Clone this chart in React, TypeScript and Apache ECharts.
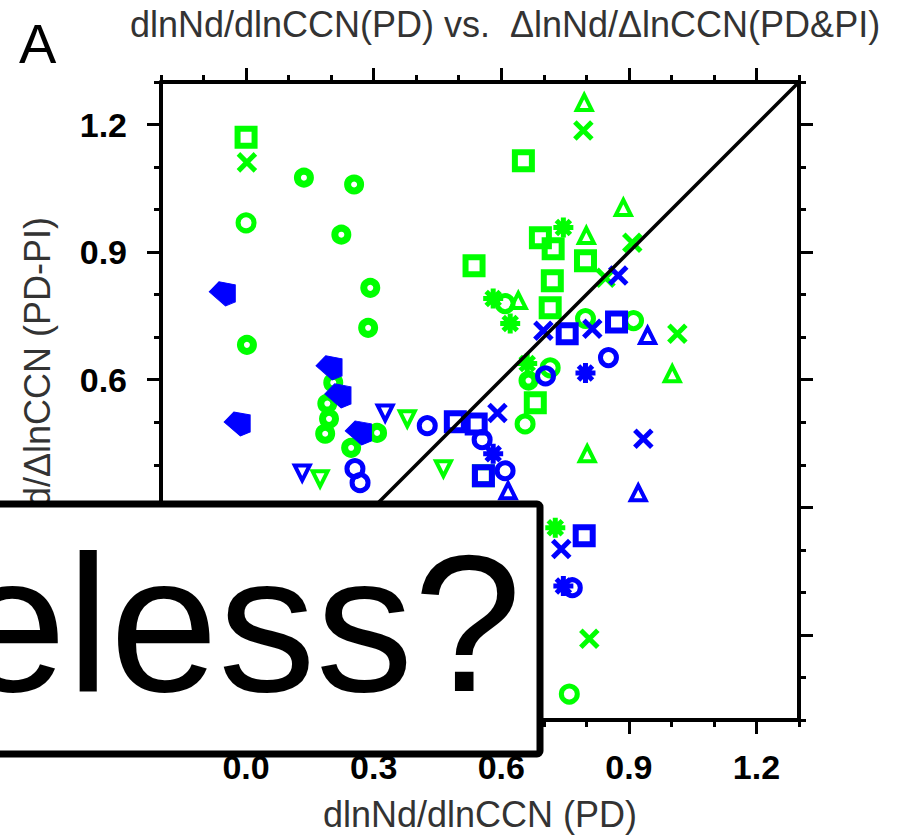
import React, { useEffect, useRef } from 'react';
import * as echarts from 'echarts';

const GREEN = '#00ff00';
const BLUE = '#0000ff';
const FONT = '"Liberation Sans", Arial, Helvetica, sans-serif';

// axis ticks
const majorTicks = [0.0, 0.3, 0.6, 0.9, 1.2];
const minorTicks = [-0.2, -0.1, 0.1, 0.2, 0.4, 0.5, 0.7, 0.8, 1.0, 1.1, 1.3];
const xTickLabels = [0.0, 0.3, 0.6, 0.9, 1.2];
const yTickLabels = [0.6, 0.9, 1.2]; // lower ones are hidden behind the overlay box
const axisMin = -0.2;
const axisMax = 1.3;

const titleText = 'dlnNd/dlnCCN(PD) vs.  ΔlnNd/ΔlnCCN(PD&PI)';
const xName = 'dlnNd/dlnCCN (PD)';
const yName = 'ΔlnNd/ΔlnCCN (PD-PI)';
const panelLabel = 'A';
const overlayText = 'eless?';

// green markers
const greenSquare = [[0.0, 1.17], [0.536, 0.868], [0.652, 1.115], [0.692, 0.934], [0.722, 0.908], [0.798, 0.88], [0.72, 0.833], [0.715, 0.769], [0.68, 0.546], [0.558, 0.374]];
const greenCircle = [[0.0, 0.969], [0.656, 0.496], [0.798, 0.744], [0.911, 0.739], [0.715, 0.628], [0.76, -0.139], [0.609, 0.779]];
const greenRing = [[0.136, 1.075], [0.254, 1.059], [0.224, 0.941], [0.292, 0.816], [0.287, 0.722], [0.002, 0.682], [0.205, 0.593], [0.191, 0.544], [0.195, 0.508], [0.186, 0.473], [0.308, 0.475], [0.247, 0.44], [0.664, 0.598]];
const greenTriUp = [[0.795, 1.252], [0.887, 1.005], [0.8, 0.939], [0.64, 0.786], [1.002, 0.614], [0.802, 0.426]];
const greenTriDown = [[0.379, 0.508], [0.174, 0.367], [0.464, 0.391]];
const greenCross = [[0.002, 1.111], [0.793, 1.186], [0.908, 0.922], [1.014, 0.708], [0.807, -0.009], [0.845, 0.84]];
const greenStar = [[0.746, 0.958], [0.581, 0.791], [0.621, 0.732], [0.661, 0.638], [0.727, 0.252]];

// blue markers
const blueArrow = [[-0.056, 0.802], [0.195, 0.628], [0.216, 0.562], [-0.021, 0.496], [0.264, 0.475]];
const blueTriDown = [[0.327, 0.522], [0.132, 0.381]];
const blueCircle = [[0.256, 0.391], [0.268, 0.358], [0.426, 0.492], [0.704, 0.609], [0.555, 0.459], [0.852, 0.652], [0.767, 0.111], [0.609, 0.386]];
const blueSquare = [[0.492, 0.501], [0.541, 0.496], [0.755, 0.708], [0.871, 0.736], [0.795, 0.233], [0.558, 0.374]];
const blueCross = [[0.875, 0.845], [0.699, 0.715], [0.814, 0.72], [0.934, 0.461], [0.741, 0.202], [0.591, 0.522]];
const blueStar = [[0.798, 0.616], [0.746, 0.115], [0.581, 0.426]];
const blueTriUp = [[0.944, 0.704], [0.922, 0.334], [0.616, 0.339]];

const diagonal = [[axisMin, axisMin], [axisMax, axisMax]];

type Marker = { symbol: string; size: number | number[]; bw: number; fill?: boolean; rotate?: number };
const MARKERS: Record<string, Marker> = {
  square: { symbol: 'rect', size: 17, bw: 6 },
  circle: { symbol: 'circle', size: 16, bw: 5 },
  ring: { symbol: 'circle', size: 13, bw: 7 },
  triUp: { symbol: 'triangle', size: 15, bw: 4 },
  triDown: { symbol: 'triangle', size: 15, bw: 4, rotate: 180 },
  cross: { symbol: 'path://M0,0L10,10M10,0L0,10', size: 17, bw: 5 },
  star: { symbol: 'path://M10,0L10,20M0,10L20,10M3,3L17,17M17,3L3,17', size: 20, bw: 5 },
  arrow: { symbol: 'path://M0,10L9,0L24,3L24,20L15,24Z', size: [26, 24], bw: 1, fill: true },
};

function scatter(data: number[][], color: string, kind: string, z: number) {
  const m = MARKERS[kind];
  return {
    type: 'scatter',
    data,
    symbol: m.symbol,
    symbolSize: m.size,
    symbolRotate: m.rotate || 0,
    silent: true,
    z,
    itemStyle: {
      color: m.fill ? color : 'rgba(0,0,0,0)',
      borderColor: color,
      borderWidth: m.bw,
      opacity: 1,
    },
  };
}

function axisPair(dim: 'x' | 'y', pos: string, major: boolean, showLabel: boolean) {
  return {
    type: 'value',
    min: axisMin,
    max: axisMax,
    position: pos,
    gridIndex: 0,
    splitLine: { show: false },
    axisLine: { show: major, onZero: false, lineStyle: { color: '#000', width: 4 } },
    axisTick: {
      show: true,
      inside: false,
      customValues: major ? majorTicks : minorTicks,
      length: major ? 14 : 7,
      lineStyle: { color: '#000', width: 3 },
    },
    axisLabel: showLabel
      ? {
          show: true,
          customValues: dim === 'x' ? xTickLabels : yTickLabels,
          formatter: (v: number) => v.toFixed(1),
          fontSize: 34,
          fontWeight: 'bold',
          color: '#000',
          fontFamily: FONT,
          margin: dim === 'x' ? 30 : 34,
        }
      : { show: false },
    ...(showLabel
      ? {
          name: dim === 'x' ? xName : yName,
          nameLocation: 'middle',
          nameGap: dim === 'x' ? 76 : 106,
          nameTextStyle: { fontSize: 36, color: '#333', fontFamily: FONT },
        }
      : {}),
  };
}

export default function App() {
  const ref = useRef<HTMLDivElement>(null);
  useEffect(() => {
    if (!ref.current) return;
    const chart = echarts.init(ref.current, null, { renderer: 'svg' });
    chart.setOption({
      animation: false,
      backgroundColor: '#fff',
      textStyle: { fontFamily: FONT },
      grid: { left: 161, right: 101, top: 82, bottom: 115, containLabel: false, outerBoundsMode: 'none' },
      xAxis: [
        axisPair('x', 'bottom', true, true),
        axisPair('x', 'bottom', false, false),
        axisPair('x', 'top', true, false),
        axisPair('x', 'top', false, false),
      ],
      yAxis: [
        axisPair('y', 'left', true, true),
        axisPair('y', 'left', false, false),
        axisPair('y', 'right', true, false),
        axisPair('y', 'right', false, false),
      ],
      series: [
        scatter(greenSquare, GREEN, 'square', 2),
        scatter(greenCircle, GREEN, 'circle', 2),
        scatter(greenRing, GREEN, 'ring', 2),
        scatter(greenTriUp, GREEN, 'triUp', 2),
        scatter(greenTriDown, GREEN, 'triDown', 2),
        scatter(greenCross, GREEN, 'cross', 2),
        scatter(greenStar, GREEN, 'star', 2),
        scatter(blueArrow, BLUE, 'arrow', 3),
        scatter(blueTriDown, BLUE, 'triDown', 3),
        scatter(blueCircle, BLUE, 'circle', 3),
        scatter(blueSquare, BLUE, 'square', 3),
        scatter(blueCross, BLUE, 'cross', 3),
        scatter(blueStar, BLUE, 'star', 3),
        scatter(blueTriUp, BLUE, 'triUp', 3),
        {
          type: 'line',
          data: diagonal,
          symbol: 'none',
          silent: true,
          z: 4,
          lineStyle: { color: '#000', width: 3.5 },
        },
      ],
      graphic: [
        {
          type: 'text',
          x: 19,
          y: 43,
          z: 100,
          style: { text: panelLabel, fontSize: 56, fill: '#000', fontFamily: FONT, verticalAlign: 'middle', align: 'left' },
        },
        {
          type: 'text',
          x: 505,
          y: 24,
          z: 100,
          style: { text: titleText, fontSize: 36, fill: '#333', fontFamily: FONT, verticalAlign: 'middle', align: 'center' },
        },
        {
          type: 'rect',
          z: 100,
          shape: { x: -20, y: 504, width: 560, height: 250, r: 3 },
          style: { fill: '#fff', stroke: '#000', lineWidth: 7 },
        },
        {
          type: 'text',
          z: 101,
          x: -42,
          y: 623,
          style: { text: overlayText, fontSize: 195, fill: '#000', fontFamily: FONT, verticalAlign: 'middle', align: 'left' },
        },
      ],
    });
    return () => chart.dispose();
  }, []);
  return <div ref={ref} style={{ position: 'fixed', left: 0, top: 0, width: 900, height: 835 }} />;
}
